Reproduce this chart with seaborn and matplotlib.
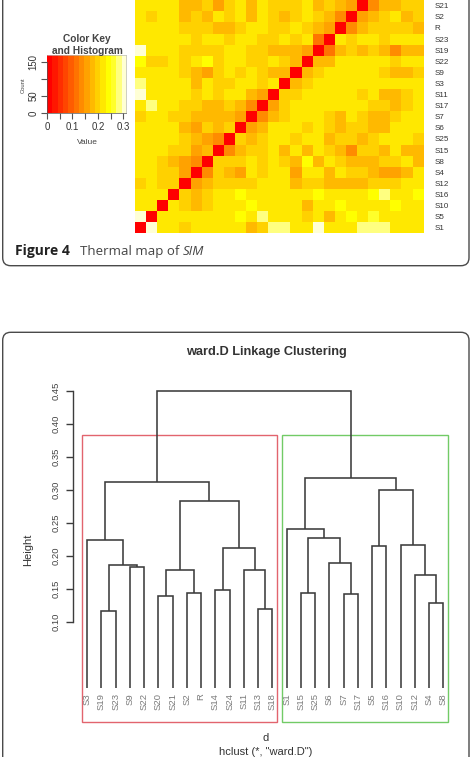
import numpy as np
import pandas as pd
import matplotlib
matplotlib.use("Agg")
import matplotlib.pyplot as plt
import seaborn as sns
from matplotlib.colors import ListedColormap, hsv_to_rgb
from matplotlib.patches import FancyBboxPatch, Rectangle

sns.set_style("white")
plt.rcParams["font.family"] = ["Liberation Sans", "DejaVu Sans"]

W, H = 475, 757

# ---------------- heat map data (rows top -> bottom, columns left -> right)
row_labels = ["S21", "S2", "R", "S23", "S19", "S22", "S9", "S3", "S11", "S17", "S7",
              "S6", "S25", "S15", "S8", "S4", "S12", "S16", "S10", "S5", "S1"]
col_labels = ["S1", "S5", "S10", "S16", "S12", "S4", "S8", "S15", "S25", "S6", "S7",
              "S17", "S11", "S3", "S9", "S22", "S19", "S23", "R", "S2", "S21",
              "S20", "S14", "S24", "S13", "S18"]

row_S21 = [.217, .217, .217, .217, .176, .176, .196, .155, .196, .217, .176, .217, .196, .196, .196, .217, .176, .196, .176, .155, 0, .135, .176, .176, .196, .196]
row_S2 = [.217, .196, .217, .217, .176, .196, .176, .217, .196, .217, .176, .217, .196, .176, .196, .217, .196, .176, .135, 0, .155, .176, .196, .217, .176, .196]
row_R = [.217, .217, .217, .217, .196, .196, .196, .176, .176, .196, .217, .217, .196, .196, .217, .196, .176, .155, 0, .135, .176, .196, .196, .196, .196, .176]
row_S23 = [.217, .217, .217, .217, .217, .196, .217, .217, .196, .217, .217, .196, .196, .217, .196, .217, .115, 0, .217, .196, .217, .217, .196, .217, .217, .217]
row_S19 = [.300, .217, .217, .217, .196, .196, .196, .196, .217, .217, .196, .196, .176, .176, .176, .155, 0, .115, .176, .196, .176, .196, .176, .135, .176, .176]
row_S22 = [.238, .196, .196, .217, .196, .217, .238, .196, .217, .217, .196, .196, .217, .196, .176, 0, .176, .176, .217, .217, .217, .217, .217, .196, .217, .217]
row_S9 = [.217, .217, .217, .217, .196, .176, .155, .196, .217, .196, .217, .196, .176, .176, 0, .176, .196, .217, .217, .217, .217, .217, .196, .176, .176, .196]
row_S3 = [.279, .217, .217, .217, .217, .176, .217, .196, .196, .217, .217, .196, .217, 0, .176, .196, .217, .217, .217, .217, .217, .217, .217, .217, .217, .217]
row_S11 = [.300, .217, .217, .217, .217, .196, .217, .196, .217, .217, .176, .155, 0, .196, .196, .217, .217, .217, .217, .217, .196, .217, .176, .176, .196, .217]
row_S17 = [.217, .279, .217, .217, .196, .196, .176, .176, .196, .176, .135, 0, .155, .196, .217, .217, .217, .217, .217, .217, .217, .196, .196, .176, .196, .217]
row_S7 = [.196, .217, .217, .196, .196, .176, .176, .176, .176, .155, 0, .135, .176, .196, .217, .217, .217, .196, .176, .217, .196, .176, .176, .196, .217, .217]
row_S6 = [.217, .217, .217, .217, .176, .155, .196, .176, .196, 0, .155, .176, .217, .217, .217, .196, .217, .196, .176, .196, .196, .176, .176, .217, .217, .217]
row_S25 = [.217, .217, .217, .217, .196, .176, .155, .135, 0, .196, .176, .196, .217, .217, .196, .217, .217, .176, .196, .196, .176, .196, .217, .217, .217, .196]
row_S15 = [.217, .217, .217, .196, .196, .155, .176, 0, .135, .176, .196, .196, .217, .176, .217, .176, .217, .196, .176, .135, .196, .196, .176, .217, .176, .176]
row_S8 = [.217, .217, .196, .176, .155, .135, 0, .196, .196, .196, .217, .196, .217, .196, .176, .238, .176, .217, .196, .176, .176, .176, .196, .196, .217, .176]
row_S4 = [.217, .217, .196, .196, .155, 0, .135, .196, .176, .155, .217, .196, .217, .217, .155, .217, .217, .176, .217, .196, .196, .176, .155, .155, .176, .217]
row_S12 = [.196, .217, .196, .196, 0, .155, .176, .196, .196, .196, .196, .217, .217, .217, .176, .196, .196, .176, .176, .176, .176, .196, .196, .196, .217, .217]
row_S16 = [.217, .217, .217, 0, .196, .176, .196, .217, .217, .238, .217, .217, .217, .217, .217, .217, .238, .217, .217, .217, .217, .238, .279, .217, .217, .238]
row_S10 = [.217, .217, 0, .217, .196, .176, .196, .217, .217, .217, .238, .217, .217, .217, .217, .176, .217, .217, .238, .217, .217, .217, .217, .238, .217, .217]
row_S5 = [.300, 0, .217, .217, .217, .217, .217, .217, .217, .238, .217, .279, .217, .217, .217, .196, .217, .176, .217, .238, .217, .258, .217, .217, .217, .217]
row_S1 = [0, .300, .217, .217, .196, .217, .217, .217, .217, .217, .176, .196, .279, .279, .217, .217, .300, .217, .217, .217, .279, .279, .279, .217, .217, .217]

key_min, key_max, n_colors = 0.0, 0.31, 15
key_xticks = [0.0, 0.05, 0.10, 0.15, 0.20, 0.25, 0.30]
key_xticklabels = ["0", "", "0.1", "", "0.2", "", "0.3"]
key_yticks = [0, 50, 100, 150]
key_yticklabels = ["0", "50", "", "150"]

# ---------------- dendrogram data
leaf_order = ["S3", "S19", "S23", "S9", "S22", "S20", "S21", "S2", "R", "S14", "S24",
              "S11", "S13", "S18", "S1", "S15", "S25", "S6", "S7", "S17", "S5", "S16",
              "S10", "S12", "S4", "S8"]
merge_a = ["S19", "S13", "S4", "S20", "S7", "S2", "S15", "S14", "S12", "S11", "m3", "S9",
           "m0", "S6", "m7", "S5", "S10", "S3", "m6", "S1", "m10", "m15", "m17", "m19", "m22"]
merge_b = ["S23", "S18", "S8", "S21", "S17", "R", "S25", "S24", "m2", "m1", "m5", "S22",
           "m11", "m4", "m9", "S16", "m8", "m12", "m13", "m18", "m14", "m16", "m20", "m21", "m23"]
merge_height = [0.116, 0.119, 0.129, 0.139, 0.142, 0.144, 0.144, 0.148, 0.171, 0.179, 0.179,
                0.183, 0.186, 0.189, 0.211, 0.215, 0.216, 0.224, 0.227, 0.241, 0.283, 0.300,
                0.312, 0.317, 0.449]
height_ticks = [0.10, 0.15, 0.20, 0.25, 0.30, 0.35, 0.40, 0.45]
cluster_colors = ["#E2646E", "#72CB66"]


def heat_colors(n):
    j = n // 4
    i = n - j
    cols = [hsv_to_rgb((h, 1.0, 1.0)) for h in np.linspace(0, 1 / 6, i)]
    if j > 0:
        cols += [hsv_to_rgb((1 / 6, s, 1.0)) for s in np.linspace(1 - 1 / (2 * j), 1 / (2 * j), j)]
    return cols


def px_axes(fig, x0, y0, x1, y1):
    return fig.add_axes([x0 / W, 1 - y1 / H, (x1 - x0) / W, (y1 - y0) / H])


fig = plt.figure(figsize=(W / 100, H / 100), dpi=100)
fig.patch.set_facecolor("white")
cmap = ListedColormap(heat_colors(n_colors))

# ---------------- heat map
rows = [row_S21, row_S2, row_R, row_S23, row_S19, row_S22, row_S9, row_S3, row_S11, row_S17,
        row_S7, row_S6, row_S25, row_S15, row_S8, row_S4, row_S12, row_S16, row_S10, row_S5, row_S1]
sim = pd.DataFrame(rows, index=row_labels, columns=col_labels)
ax_hm = px_axes(fig, 135, 0.2, 423.6, 233.3)
sns.heatmap(sim, ax=ax_hm, cmap=cmap, vmin=key_min, vmax=key_max, cbar=False,
            xticklabels=False, yticklabels=True, linewidths=0)
ax_hm.yaxis.tick_right()
ax_hm.tick_params(axis="y", length=0, pad=8, labelsize=5.8, labelcolor="#333333", labelrotation=0)
for t in ax_hm.get_yticklabels():
    t.set_ha("left")
ax_hm.set_xlabel("")
ax_hm.set_ylabel("")

# ---------------- color key
ax_key = px_axes(fig, 47, 55, 126, 113)
grad = np.linspace(key_min, key_max, 512)[None, :]
ax_key.imshow(grad, cmap=cmap, vmin=key_min, vmax=key_max, aspect="auto",
              extent=[key_min, key_max, 0, 170], interpolation="nearest")
ax_key.set_xlim(key_min, key_max)
ax_key.set_ylim(0, 170)
ax_key.set_xticks(key_xticks)
ax_key.set_xticklabels(key_xticklabels)
ax_key.set_yticks(key_yticks)
ax_key.set_yticklabels(key_yticklabels, rotation=90, va="center")
ax_key.tick_params(axis="both", direction="out", length=4, width=0.8, color="#555555",
                   labelsize=6.9, labelcolor="#333333", bottom=True, left=True)
ax_key.tick_params(axis="x", pad=2.5)
ax_key.tick_params(axis="y", pad=2)
for s in ax_key.spines.values():
    s.set_color("#bbbbbb")
    s.set_linewidth(0.5)
ax_key.spines["bottom"].set_color("#555555")
ax_key.spines["left"].set_color("#555555")
ax_key.spines["left"].set_bounds(0, 150)

# ---------------- dendrogram
ax_d = px_axes(fig, 73, 377.5, 457.5, 722.3)
ax_d.set_facecolor("none")
ax_d.set_xlim(0, 27)
ax_d.set_ylim(-0.0524, 0.47)
pos = {name: i + 1.0 for i, name in enumerate(leaf_order)}
hgt = {name: 0.0 for name in leaf_order}
members = {name: [name] for name in leaf_order}
for k, (a, b, h) in enumerate(zip(merge_a, merge_b, merge_height)):
    xa, xb = pos[a], pos[b]
    ax_d.plot([xa, xa, xb, xb], [hgt[a], h, h, hgt[b]], color="#3c3c3c", lw=1.15,
              solid_joinstyle="miter", solid_capstyle="butt")
    key = f"m{k}"
    pos[key] = (xa + xb) / 2
    hgt[key] = h
    members[key] = members[a] + members[b]

for name in leaf_order:
    ax_d.text(pos[name], -0.008, name, rotation=90, ha="center", va="top",
              fontsize=6.8, color="#7a7a7a")

rect_top = (merge_height[-1] + merge_height[-2]) / 2
for col, key in zip(cluster_colors, [merge_a[-1], merge_b[-1]]):
    leaves = [pos[n] for n in members[key]]
    x0, x1 = min(leaves) - 0.34, max(leaves) + 0.33
    ax_d.add_patch(Rectangle((x0, -0.0524), x1 - x0, rect_top + 0.0524, fill=False,
                             edgecolor=col, lw=1.0, clip_on=False))

ax_d.set_yticks(height_ticks)
ax_d.set_yticklabels([f"{v:.2f}" for v in height_ticks], rotation=90, va="center")
ax_d.set_xticks([])
for side in ["top", "right", "bottom"]:
    ax_d.spines[side].set_visible(False)
ax_d.spines["left"].set_bounds(height_ticks[0], height_ticks[-1])
ax_d.spines["left"].set_color("#3c3c3c")
ax_d.spines["left"].set_linewidth(1.0)
ax_d.tick_params(axis="y", direction="out", length=4.8, width=1.0, color="#3c3c3c",
                 labelsize=6.8, labelcolor="#444444", pad=4, left=True)

# ---------------- panel frames and texts (pixel overlay)
bg = fig.add_axes([0, 0, 1, 1], zorder=10)
bg.set_xlim(0, W)
bg.set_ylim(H, 0)
bg.axis("off")
bg.patch.set_alpha(0)
bg.add_patch(FancyBboxPatch((2.7, -40), 466.3, 305.7, boxstyle="round,pad=0,rounding_size=8",
                            fill=False, edgecolor="#4a4a4a", lw=1.0))
bg.add_patch(FancyBboxPatch((2.7, 332.3), 466.3, 480, boxstyle="round,pad=0,rounding_size=8",
                            fill=False, edgecolor="#4a4a4a", lw=1.0))

bg.text(87, 39, "Color Key", ha="center", va="center", fontsize=7.3, fontweight="bold", color="#444444")
bg.text(87, 51.5, "and Histogram", ha="center", va="center", fontsize=7.3, fontweight="bold", color="#444444")
bg.text(23, 85, "Count", rotation=90, ha="center", va="center", fontsize=4.2, color="#444444")
bg.text(87, 142, "Value", ha="center", va="center", fontsize=6, color="#444444")

cap_font = ["Open Sans", "DejaVu Sans"]
bg.text(15, 255, "Figure 4", ha="left", va="baseline", fontsize=10, fontweight="bold",
        family=cap_font, color="#222222")
bg.text(80, 255, "Thermal map of", ha="left", va="baseline", fontsize=9.5,
        family=cap_font, color="#444444")
bg.text(183, 255, "SIM", ha="left", va="baseline", fontsize=9.5, style="italic",
        family=cap_font, color="#444444")

bg.text(266, 352, "ward.D Linkage Clustering", ha="center", va="center", fontsize=9.2,
        fontweight="bold", color="#333333")
bg.text(28, 550, "Height", rotation=90, ha="center", va="center", fontsize=8, color="#333333")
bg.text(266, 738, "d", ha="center", va="center", fontsize=8, color="#333333")
bg.text(266, 751.7, 'hclust (*, "ward.D")', ha="center", va="center", fontsize=8, color="#333333")

fig.savefig("out.png", dpi=100, facecolor="white")
